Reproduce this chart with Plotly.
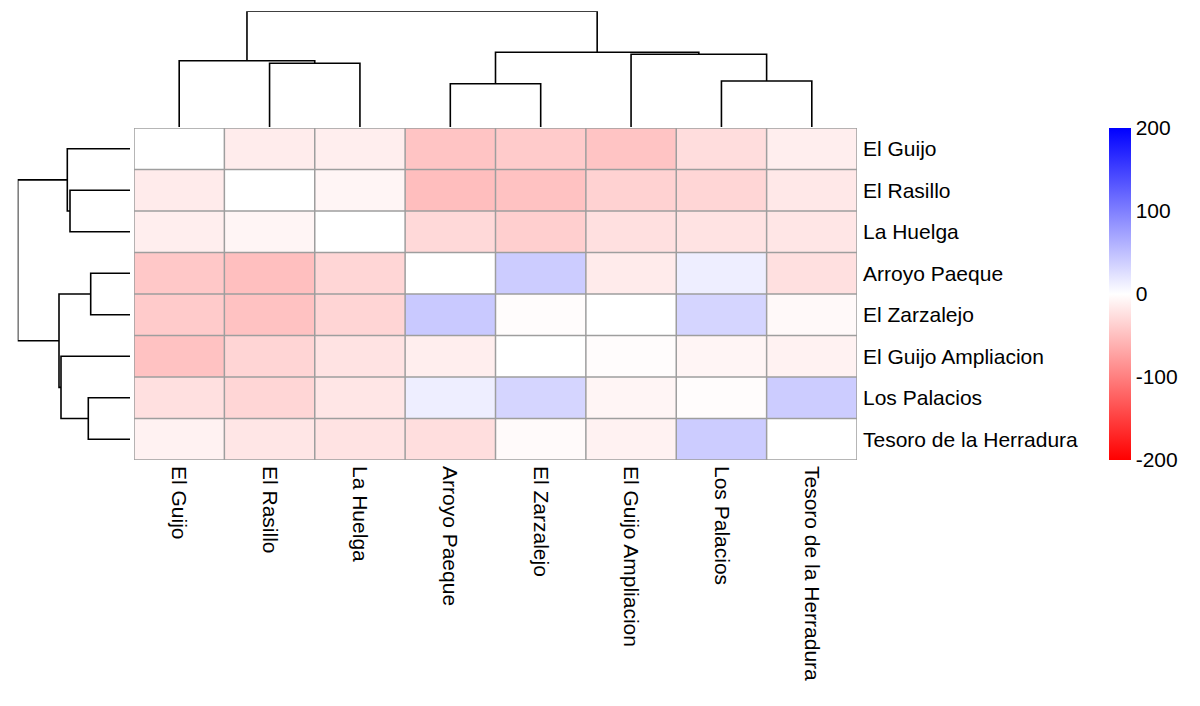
import plotly.graph_objects as go

# ---------------- data ----------------
row_labels = ["El Guijo", "El Rasillo", "La Huelga", "Arroyo Paeque", "El Zarzalejo",
              "El Guijo Ampliacion", "Los Palacios", "Tesoro de la Herradura"]
col_labels = ["El Guijo", "El Rasillo", "La Huelga", "Arroyo Paeque", "El Zarzalejo",
              "El Guijo Ampliacion", "Los Palacios", "Tesoro de la Herradura"]

row_el_guijo      = [0,   -15, -13, -46, -41, -46, -27, -13]
row_el_rasillo    = [-16,   0,  -8, -51, -48, -35, -32, -18]
row_la_huelga     = [-13,  -8,   0, -30, -38, -24, -22, -20]
row_arroyo        = [-43, -50, -32,   0,  40, -16,  13, -24]
row_zarzalejo     = [-41, -48, -33,  42,  -2,   0,  33,  -5]
row_guijo_amp     = [-48, -33, -22, -13,   0,  -2,  -8, -10]
row_los_palacios  = [-24, -32, -20,  13,  33,  -8,  -2,  40]
row_tesoro        = [-10, -20, -22, -26,  -4, -10,  40,   0]

z = [row_el_guijo, row_el_rasillo, row_la_huelga, row_arroyo,
     row_zarzalejo, row_guijo_amp, row_los_palacios, row_tesoro]

color_min, color_max = -200, 200
cbar_ticks = [200, 100, 0, -100, -200]

# dendrogram merges (scipy-style ids: leaves 0..7 in display order, clusters 8..)
col_merge_left   = [1, 0, 3, 6, 5, 10, 9]
col_merge_right  = [2, 8, 4, 7, 11, 12, 13]
col_merge_height = [63.7, 66.3, 43.3, 46.0, 72.7, 74.7, 115.7]

row_merge_left   = [1, 0, 3, 6, 5, 10, 9]
row_merge_right  = [2, 8, 4, 7, 11, 12, 13]
row_merge_height = [60.0, 62.7, 39.3, 41.7, 69.0, 71.0, 112.3]

# ---------------- layout geometry (pixels) ----------------
W, H = 1200, 706
hm_x0, hm_x1, hm_y0, hm_y1 = 134, 857, 128, 460
coldend_top = 11.3
rowdend_left = 17.7
FONT = "Liberation Sans, Arial, sans-serif"

def px_x(p):
    return p / W

def px_y(p):
    return 1 - p / H


def dendro_segments(lefts, rights, heights, n):
    pos = {i: float(i) for i in range(n)}
    hgt = {i: 0.0 for i in range(n)}
    P, Hs = [], []
    for k, (a, b, h) in enumerate(zip(lefts, rights, heights)):
        cid = n + k
        P += [pos[a], pos[a], pos[b], pos[b], None]
        Hs += [hgt[a], h, h, hgt[b], None]
        pos[cid] = (pos[a] + pos[b]) / 2
        hgt[cid] = h
    return P, Hs

n = len(col_labels)
fig = go.Figure()

fig.add_trace(go.Heatmap(
    z=z, x=list(range(n)), y=list(range(len(row_labels))),
    colorscale=[[0, "#FF0000"], [0.5, "#FFFFFF"], [1, "#0000FF"]],
    zmin=color_min, zmax=color_max,
    xaxis="x", yaxis="y",
    colorbar=dict(
        x=px_x(1109), xanchor="left", xpad=0,
        y=px_y((hm_y0 + hm_y1) / 2), yanchor="middle", ypad=0,
        len=(hm_y1 - hm_y0) / H, lenmode="fraction",
        thickness=22, outlinewidth=0, ticks="",
        tickvals=cbar_ticks, ticktext=[str(v) for v in cbar_ticks],
        tickfont=dict(family=FONT, size=21, color="#000000"),
    ),
    hoverinfo="skip",
))

# column dendrogram
cx, ch = dendro_segments(col_merge_left, col_merge_right, col_merge_height, n)
fig.add_trace(go.Scatter(x=cx, y=ch, mode="lines", xaxis="x2", yaxis="y2",
                         line=dict(color="#000000", width=1.6), hoverinfo="skip",
                         showlegend=False))

# row dendrogram
ry, rh = dendro_segments(row_merge_left, row_merge_right, row_merge_height, len(row_labels))
fig.add_trace(go.Scatter(x=rh, y=ry, mode="lines", xaxis="x3", yaxis="y3",
                         line=dict(color="#000000", width=1.6), hoverinfo="skip",
                         showlegend=False))

# cell borders
shapes = []
for i in range(n + 1):
    shapes.append(dict(type="line", xref="x", yref="y", x0=i - 0.5, x1=i - 0.5,
                       y0=-0.5, y1=len(row_labels) - 0.5,
                       line=dict(color="#9E9E9E", width=1.5)))
for j in range(len(row_labels) + 1):
    shapes.append(dict(type="line", xref="x", yref="y", x0=-0.5, x1=n - 0.5,
                       y0=j - 0.5, y1=j - 0.5,
                       line=dict(color="#9E9E9E", width=1.5)))

hm_xdom = [px_x(hm_x0), px_x(hm_x1)]
hm_ydom = [px_y(hm_y1), px_y(hm_y0)]

fig.update_layout(
    width=W, height=H,
    margin=dict(l=0, r=0, t=0, b=0),
    paper_bgcolor="#FFFFFF", plot_bgcolor="#FFFFFF",
    showlegend=False,
    shapes=shapes,
    font=dict(family=FONT, size=21, color="#000000"),
    xaxis=dict(domain=hm_xdom, range=[-0.5, n - 0.5], tickvals=list(range(n)),
               ticktext=col_labels, tickangle=90, side="bottom", ticks="",
               ticklabelstandoff=5,
               showgrid=False, zeroline=False, showline=False,
               tickfont=dict(family=FONT, size=21, color="#000000"), anchor="y"),
    yaxis=dict(domain=hm_ydom, range=[len(row_labels) - 0.5, -0.5],
               tickvals=list(range(len(row_labels))), ticktext=row_labels,
               side="right", ticks="", ticklabelstandoff=5,
               showgrid=False, zeroline=False, showline=False,
               tickfont=dict(family=FONT, size=21, color="#000000"), anchor="x"),
    xaxis2=dict(domain=hm_xdom, range=[-0.5, n - 0.5], visible=False, anchor="y2"),
    yaxis2=dict(domain=[px_y(hm_y0 - 1), px_y(coldend_top)], range=[0, max(col_merge_height)],
                visible=False, anchor="x2"),
    xaxis3=dict(domain=[px_x(rowdend_left), px_x(hm_x0 - 4)], range=[max(row_merge_height), 0],
                visible=False, anchor="y3"),
    yaxis3=dict(domain=hm_ydom, range=[len(row_labels) - 0.5, -0.5], visible=False, anchor="x3"),
)

fig.write_html("out.html", config={"displayModeBar": False},
               post_script="document.body.style.margin='0px';document.body.style.overflow='hidden';")
